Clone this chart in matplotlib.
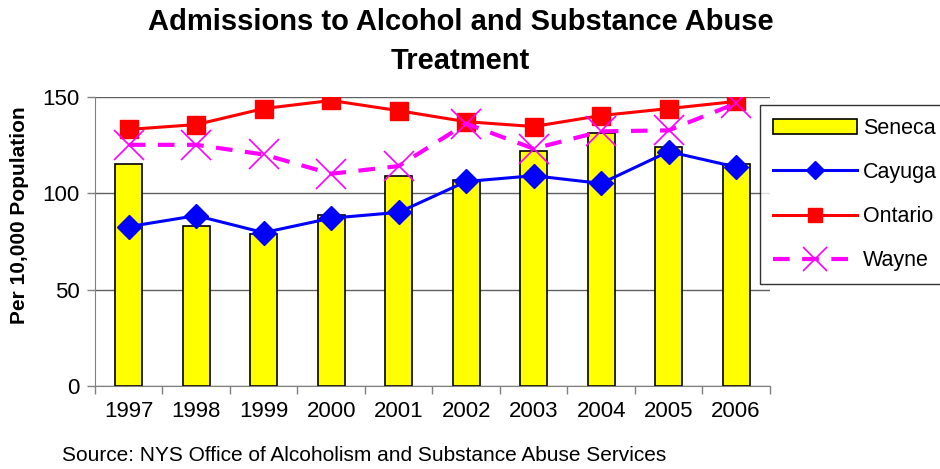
import matplotlib
matplotlib.use("Agg")
import matplotlib.pyplot as plt
import numpy as np

plt.rcParams['font.family'] = ['Liberation Sans', 'DejaVu Sans']

years = ['1997', '1998', '1999', '2000', '2001', '2002', '2003', '2004', '2005', '2006']
seneca = [115, 83, 79, 88.5, 109, 107, 122, 131, 124, 115]
cayuga = [82.6, 88.3, 79.5, 87, 90, 106, 109, 105, 121.5, 113.5]
ontario = [133, 135.5, 143.8, 148, 142.7, 137, 134.5, 140.2, 143.8, 147.5]
wayne = [125, 125, 120, 110, 114, 136, 123, 132, 132.5, 146.5]

fig = plt.figure(figsize=(9.4, 4.69), dpi=100)
ax = fig.add_axes([0.101, 0.177, 0.718, 0.617])

x = np.arange(len(years))
hb = ax.bar(x, seneca, width=0.4, color='#FFFF00', edgecolor='black', linewidth=1.2, label='Seneca', zorder=2)
hc, = ax.plot(x, cayuga, color='#0000FF', lw=2.2, marker='D', ms=12, label='Cayuga', zorder=3)
ho, = ax.plot(x, ontario, color='#FF0000', lw=2.2, marker='s', ms=13, label='Ontario', zorder=3)
hw, = ax.plot(x, wayne, color='#FF00FF', lw=3, ls=(0, (4, 3)), marker='x', ms=22, mew=1.2,
              label='Wayne', zorder=4)

ax.set_xlim(-0.5, len(years) - 0.5)
ax.set_ylim(0, 150)
ax.set_yticks([0, 50, 100, 150])
ax.set_xticks(x)
ax.set_xticklabels(years)
ax.set_xticks(np.arange(-0.5, len(years)), minor=True)
ax.tick_params(axis='x', which='major', length=0, labelsize=16, pad=11)
ax.tick_params(axis='x', which='minor', length=6, color='#808080', width=1)
ax.tick_params(axis='y', length=6, color='#808080', labelsize=16, width=1, pad=5)
ax.yaxis.grid(True, color='#606060', lw=1)
ax.set_axisbelow(True)
for s in ['top', 'right']:
    ax.spines[s].set_visible(False)
for s in ['left', 'bottom']:
    ax.spines[s].set_color('#808080')

fig.text(20 / 940, 1 - 215 / 469, 'Per 10,000 Population', rotation=90, ha='center', va='center',
         fontsize=15, fontweight='bold')

fig.text(0.49, 0.982, 'Admissions to Alcohol and Substance Abuse\nTreatment', ha='center', va='top',
         fontsize=21, fontweight='bold', linespacing=1.5)
fig.text(0.066, 0.018, 'Source: NYS Office of Alcoholism and Substance Abuse Services', fontsize=15)

leg = fig.legend([hb, hc, ho, hw], ['Seneca', 'Cayuga', 'Ontario', 'Wayne'],
                 loc='upper left', bbox_to_anchor=(0.809, 0.776), fontsize=15.5, frameon=True,
                 fancybox=False, edgecolor='black', handlelength=3.9, labelspacing=1.07,
                 borderpad=0.6, handletextpad=0.25, borderaxespad=0, markerscale=0.8)
leg.get_frame().set_linewidth(1)

fig.savefig('out.png', dpi=100)
